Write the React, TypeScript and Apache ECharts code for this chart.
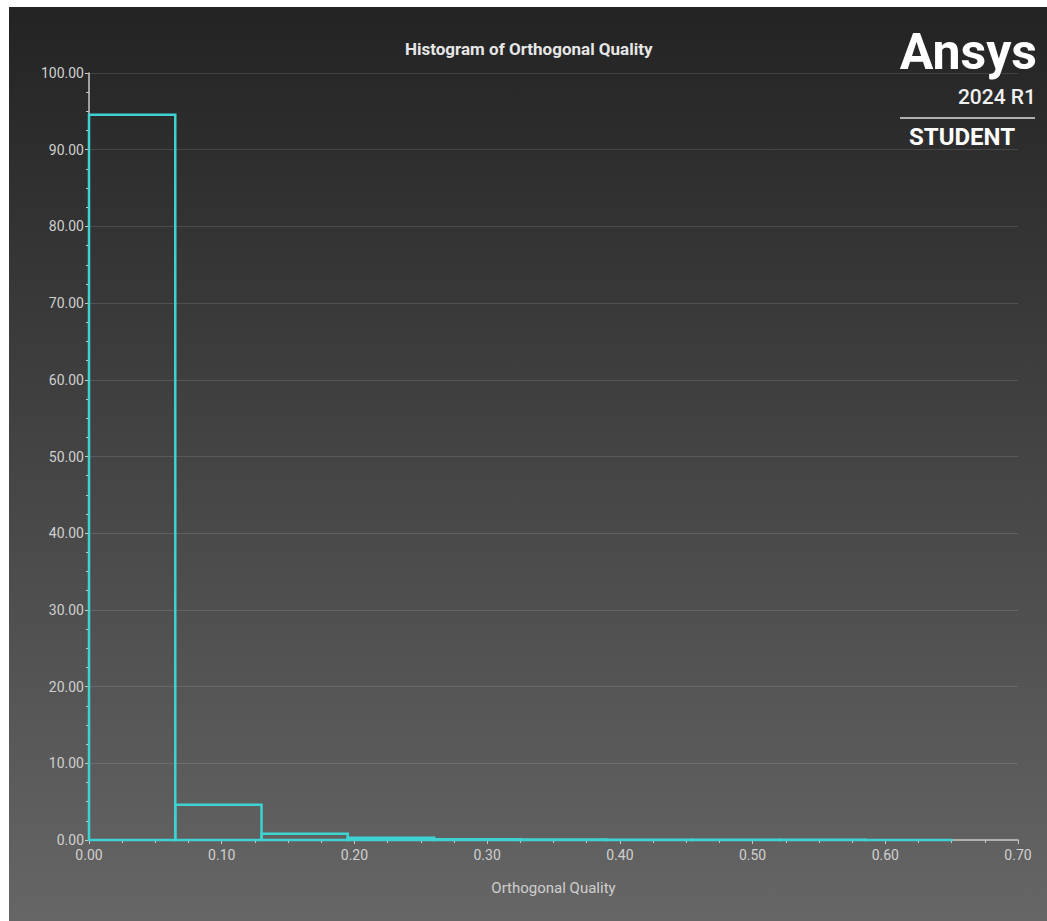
import React, { useEffect, useRef } from "react";
import * as echarts from "echarts";

const binStarts = [0, 0.065, 0.13, 0.195, 0.26, 0.325, 0.39, 0.455, 0.52, 0.585];
const binEnds = [0.065, 0.13, 0.195, 0.26, 0.325, 0.39, 0.455, 0.52, 0.585, 0.65];
const percents = [94.55, 4.6, 0.8, 0.3, 0.1, 0.06, 0.04, 0.03, 0.02, 0.01];
const xTicks = [0, 0.1, 0.2, 0.3, 0.4, 0.5, 0.6, 0.7];
const yTicks = [0, 10, 20, 30, 40, 50, 60, 70, 80, 90, 100];

const titleText = "Histogram of Orthogonal Quality";
const xName = "Orthogonal Quality";

export default function App() {
  const ref = useRef<HTMLDivElement>(null);
  useEffect(() => {
    if (!ref.current) return;
    const chart = echarts.init(ref.current, undefined, { renderer: "svg" });
    const data = binStarts.map((s, i) => [s, binEnds[i], percents[i]]);
    const font = "Roboto, 'Noto Sans', sans-serif";
    chart.setOption({
      animation: false,
      backgroundColor: {
        type: "linear",
        x: 0,
        y: 0,
        x2: 0,
        y2: 1,
        colorStops: [
          { offset: 0, color: "#232323" },
          { offset: 1, color: "#666666" },
        ],
      },
      title: {
        text: titleText,
        left: 391,
        top: 28,
        textStyle: { color: "#e6e6e6", fontSize: 17, fontWeight: "bold", fontFamily: font },
      },
      grid: { left: 80, right: 29, top: 66, bottom: 81, containLabel: false },
      xAxis: {
        type: "value",
        min: xTicks[0],
        max: xTicks[xTicks.length - 1],
        interval: 0.1,
        name: xName,
        nameLocation: "middle",
        nameGap: 40,
        nameTextStyle: { color: "#cfcfcf", fontSize: 15, fontFamily: font },
        axisLine: { show: true, lineStyle: { color: "#c8c8c8", width: 1.5 } },
        axisTick: { show: true, length: 4, inside: false, lineStyle: { color: "#c8c8c8" } },
        minorTick: { show: true, splitNumber: 4, length: 3, lineStyle: { color: "#c8c8c8" } },
        axisLabel: {
          color: "#d0d0d0",
          fontSize: 14,
          fontFamily: font,
          margin: 8,
          formatter: (v: number) => v.toFixed(2),
        },
        splitLine: { show: false },
      },
      yAxis: {
        type: "value",
        min: yTicks[0],
        max: yTicks[yTicks.length - 1],
        interval: 10,
        axisLine: { show: true, lineStyle: { color: "#c8c8c8", width: 1.5 } },
        axisTick: { show: true, length: 4, inside: false, lineStyle: { color: "#c8c8c8" } },
        minorTick: { show: true, splitNumber: 4, length: 3, lineStyle: { color: "#c8c8c8" } },
        axisLabel: {
          color: "#d0d0d0",
          fontSize: 14,
          fontFamily: font,
          margin: 5,
          formatter: (v: number) => v.toFixed(2),
        },
        splitLine: { show: true, lineStyle: { color: "rgba(255,255,255,0.12)", width: 1 } },
      },
      series: [
        {
          type: "custom",
          data,
          encode: { x: [0, 1], y: 2 },
          renderItem: (params: any, api: any) => {
            const p0 = api.coord([api.value(0), api.value(2)]);
            const p1 = api.coord([api.value(1), 0]);
            return {
              type: "rect",
              shape: { x: p0[0], y: p0[1], width: p1[0] - p0[0], height: p1[1] - p0[1] },
              style: { fill: "none", stroke: "#3ed3d3", lineWidth: 2.5 },
            };
          },
        },
      ],
      graphic: [
        {
          type: "text",
          right: 10,
          top: 20,
          style: { text: "Ansys", fill: "#ffffff", fontSize: 50, fontWeight: "bold", fontFamily: font },
        },
        {
          type: "text",
          right: 11,
          top: 79,
          style: { text: "2024 R1", fill: "#f0f0f0", fontSize: 21, fontWeight: 500, fontFamily: font },
        },
        {
          type: "line",
          shape: { x1: 891, y1: 111, x2: 1026, y2: 111 },
          style: { stroke: "#b0b0b0", lineWidth: 2 },
        },
        {
          type: "text",
          left: 900,
          top: 118,
          style: { text: "STUDENT", fill: "#ffffff", fontSize: 24, fontWeight: "bold", fontFamily: font },
        },
      ],
    });
    return () => chart.dispose();
  }, []);
  return (
    <div
      ref={ref}
      style={{ position: "fixed", left: 9, top: 7, width: 1038, height: 914 }}
    />
  );
}
